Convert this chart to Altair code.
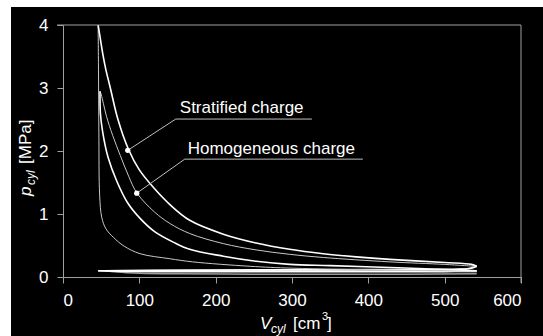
import altair as alt
import pandas as pd

# ---- data (V in cm^3, p in MPa) ----
# Stratified charge: expansion
A_V = [46, 48, 52, 56, 62, 72, 86, 100, 120, 140, 166, 210, 253, 297, 341, 384, 428, 500, 535, 542]
A_p = [4.0, 3.85, 3.55, 3.3, 3.0, 2.5, 2.02, 1.7, 1.4, 1.15, 0.90, 0.68, 0.54, 0.44, 0.37, 0.32, 0.28, 0.23, 0.20, 0.17]
# Homogeneous charge: expansion
B_V = [48.5, 50, 53, 57, 65, 75, 86, 97, 120, 140, 166, 210, 253, 297, 341, 428, 500, 540]
B_p = [2.95, 2.9, 2.75, 2.55, 2.25, 1.93, 1.6, 1.33, 1.03, 0.85, 0.69, 0.53, 0.43, 0.36, 0.31, 0.24, 0.20, 0.17]
# Homogeneous charge: compression
C_V = [542, 500, 428, 350, 297, 253, 210, 166, 145, 120, 101, 85, 70.5, 59, 52, 49, 48.5]
C_p = [0.10, 0.12, 0.15, 0.18, 0.20, 0.25, 0.33, 0.44, 0.55, 0.72, 0.93, 1.17, 1.52, 1.9, 2.3, 2.6, 2.95]
# Stratified charge: compression
D_V = [542, 429, 300, 245, 170, 140, 101, 80, 66, 56, 50.7, 48, 47, 46.5, 46]
D_p = [0.09, 0.11, 0.14, 0.17, 0.24, 0.29, 0.37, 0.49, 0.63, 0.77, 0.95, 1.3, 2.3, 3.3, 4.0]
# Gas exchange loops
E1_V = [542, 535, 520, 480, 400, 300, 200, 120, 70, 46]
E1_p = [0.17, 0.14, 0.125, 0.12, 0.118, 0.115, 0.11, 0.105, 0.1, 0.1]
I1_V = [46, 60, 80, 120, 200, 300, 400, 500, 542]
I1_p = [0.1, 0.095, 0.09, 0.085, 0.085, 0.085, 0.085, 0.085, 0.09]
E2_V = [542, 530, 500, 400, 300, 200, 120, 80, 55]
E2_p = [0.17, 0.13, 0.115, 0.11, 0.108, 0.106, 0.105, 0.103, 0.1]
I2_V = [55, 70, 100, 150, 250, 350, 450, 542]
I2_p = [0.1, 0.08, 0.06, 0.05, 0.045, 0.045, 0.045, 0.05]

# annotations
labels = ["Stratified charge", "Homogeneous charge"]
label_V = [153, 163.4]
label_p = [2.60, 1.95]
dot_V = [84.8, 96.6]
dot_p = [2.01, 1.33]
knee_V = [147.7, 159.5]
knee_p = [2.507, 1.871]
end_V = [326, 392.8]

x_ticks = [0, 100, 200, 300, 400, 500, 600]
y_ticks = [0, 1, 2, 3, 4]

FONT = "Liberation Sans"
GRID = "#a0a0a0"

xs = alt.Scale(domain=[0, 600], nice=False, zero=False)
ys = alt.Scale(domain=[0, 4], nice=False, zero=False)

x_axis = alt.Axis(values=x_ticks, title=None, grid=False, tickSize=6, format="d",
                  tickColor=GRID, domainColor=GRID, labelColor="white",
                  labelFont=FONT, labelFontSize=17, labelPadding=9)
y_axis = alt.Axis(values=y_ticks, title=None, grid=False, tickSize=6, format="d",
                  tickColor=GRID, domainColor=GRID, labelColor="white",
                  labelFont=FONT, labelFontSize=17, labelPadding=9)


def curve(V, p, color, width, smooth=True):
    df = pd.DataFrame({"V": V, "p": p, "o": list(range(len(V)))})
    mk = alt.MarkDef(type="line", color=color, strokeWidth=width, clip=True,
                     interpolate="catmull-rom" if smooth else "linear")
    return alt.Chart(df).mark_line(color=color, strokeWidth=width, clip=True,
                                   interpolate="catmull-rom" if smooth else "linear").encode(
        x=alt.X("V:Q", scale=xs, axis=x_axis),
        y=alt.Y("p:Q", scale=ys, axis=y_axis),
        order="o:Q",
    )


layers = [
    curve(I2_V, I2_p, "#9a9a9a", 1.5),
    curve(E2_V, E2_p, "#c8c8c8", 1.5),
    curve(I1_V, I1_p, "#ffffff", 1.6),
    curve(E1_V, E1_p, "#ffffff", 1.6),
    curve(D_V, D_p, "#c8c8c8", 1.0),
    curve(B_V, B_p, "#c8c8c8", 1.0),
    curve(C_V, C_p, "#ffffff", 1.6),
    curve(A_V, A_p, "#ffffff", 1.6),
]

# leader lines
lead_rows = []
for i in range(2):
    lead_rows += [
        {"V": dot_V[i], "p": dot_p[i], "g": i, "o": 0},
        {"V": knee_V[i], "p": knee_p[i], "g": i, "o": 1},
        {"V": end_V[i], "p": knee_p[i], "g": i, "o": 2},
    ]
lead = alt.Chart(pd.DataFrame(lead_rows)).mark_line(color="#c0c0c0", strokeWidth=1).encode(
    x=alt.X("V:Q", scale=xs), y=alt.Y("p:Q", scale=ys), detail="g:N", order="o:Q")
dots = alt.Chart(pd.DataFrame({"V": dot_V, "p": dot_p})).mark_circle(
    color="white", size=28, opacity=1).encode(x=alt.X("V:Q", scale=xs), y=alt.Y("p:Q", scale=ys))
texts = alt.Chart(pd.DataFrame({"V": label_V, "p": label_p, "t": labels})).mark_text(
    color="white", font=FONT, fontSize=17, align="left", baseline="alphabetic").encode(
    x=alt.X("V:Q", scale=xs), y=alt.Y("p:Q", scale=ys), text="t:N")

# frame lines (top and right)
frame_top = alt.Chart(pd.DataFrame({"p": [4]})).mark_rule(color=GRID, strokeWidth=1).encode(
    y=alt.Y("p:Q", scale=ys), x=alt.value(-6), x2=alt.value(458))
frame_right = alt.Chart(pd.DataFrame({"V": [600]})).mark_rule(color=GRID, strokeWidth=1).encode(
    x=alt.X("V:Q", scale=xs), y=alt.value(0), y2=alt.value(258))


def t(txt, x, y, size, italic=False, angle=0):
    return alt.Chart(pd.DataFrame({"t": [txt]})).mark_text(
        text=txt, color="white", font=FONT, fontSize=size,
        fontStyle="italic" if italic else "normal", align="left",
        baseline="alphabetic", angle=angle).encode(x=alt.value(x), y=alt.value(y))


# plot origin at (63, 25)
ox, oy = 63, 25
titles = [
    t("V", 260 - ox, 329 - oy, 17, True),
    t("cyl", 271 - ox, 333 - oy, 12, True),
    t("[cm", 293 - ox, 329 - oy, 17),
    t("3", 322 - ox, 320 - oy, 11),
    t("]", 327 - ox, 329 - oy, 17),
    t("p", 31 - ox, 196 - oy, 17, True, 270),
    t("cyl", 35 - ox, 185 - oy, 12, True, 270),
    t("[MPa]", 31 - ox, 164 - oy, 17, False, 270),
]

# white strips at top and left of the picture
strips = [
    alt.Chart(pd.DataFrame({"a": [0]})).mark_rect(color="white").encode(
        x=alt.value(-ox), x2=alt.value(480), y=alt.value(-oy), y2=alt.value(7 - oy)),
    alt.Chart(pd.DataFrame({"a": [0]})).mark_rect(color="white").encode(
        x=alt.value(-ox), x2=alt.value(11 - ox), y=alt.value(-oy), y2=alt.value(311)),
]

chart = alt.layer(*strips, *layers, lead, dots, texts, frame_top, frame_right, *titles).properties(
    width=458, height=252,
    autosize=alt.AutoSizeParams(type="none"),
    padding={"left": 63, "top": 25, "right": 22, "bottom": 59},
    background="black",
).configure_view(stroke=None, fill="black")

chart.save("out.html", embed_options={"renderer": "svg", "actions": False})
